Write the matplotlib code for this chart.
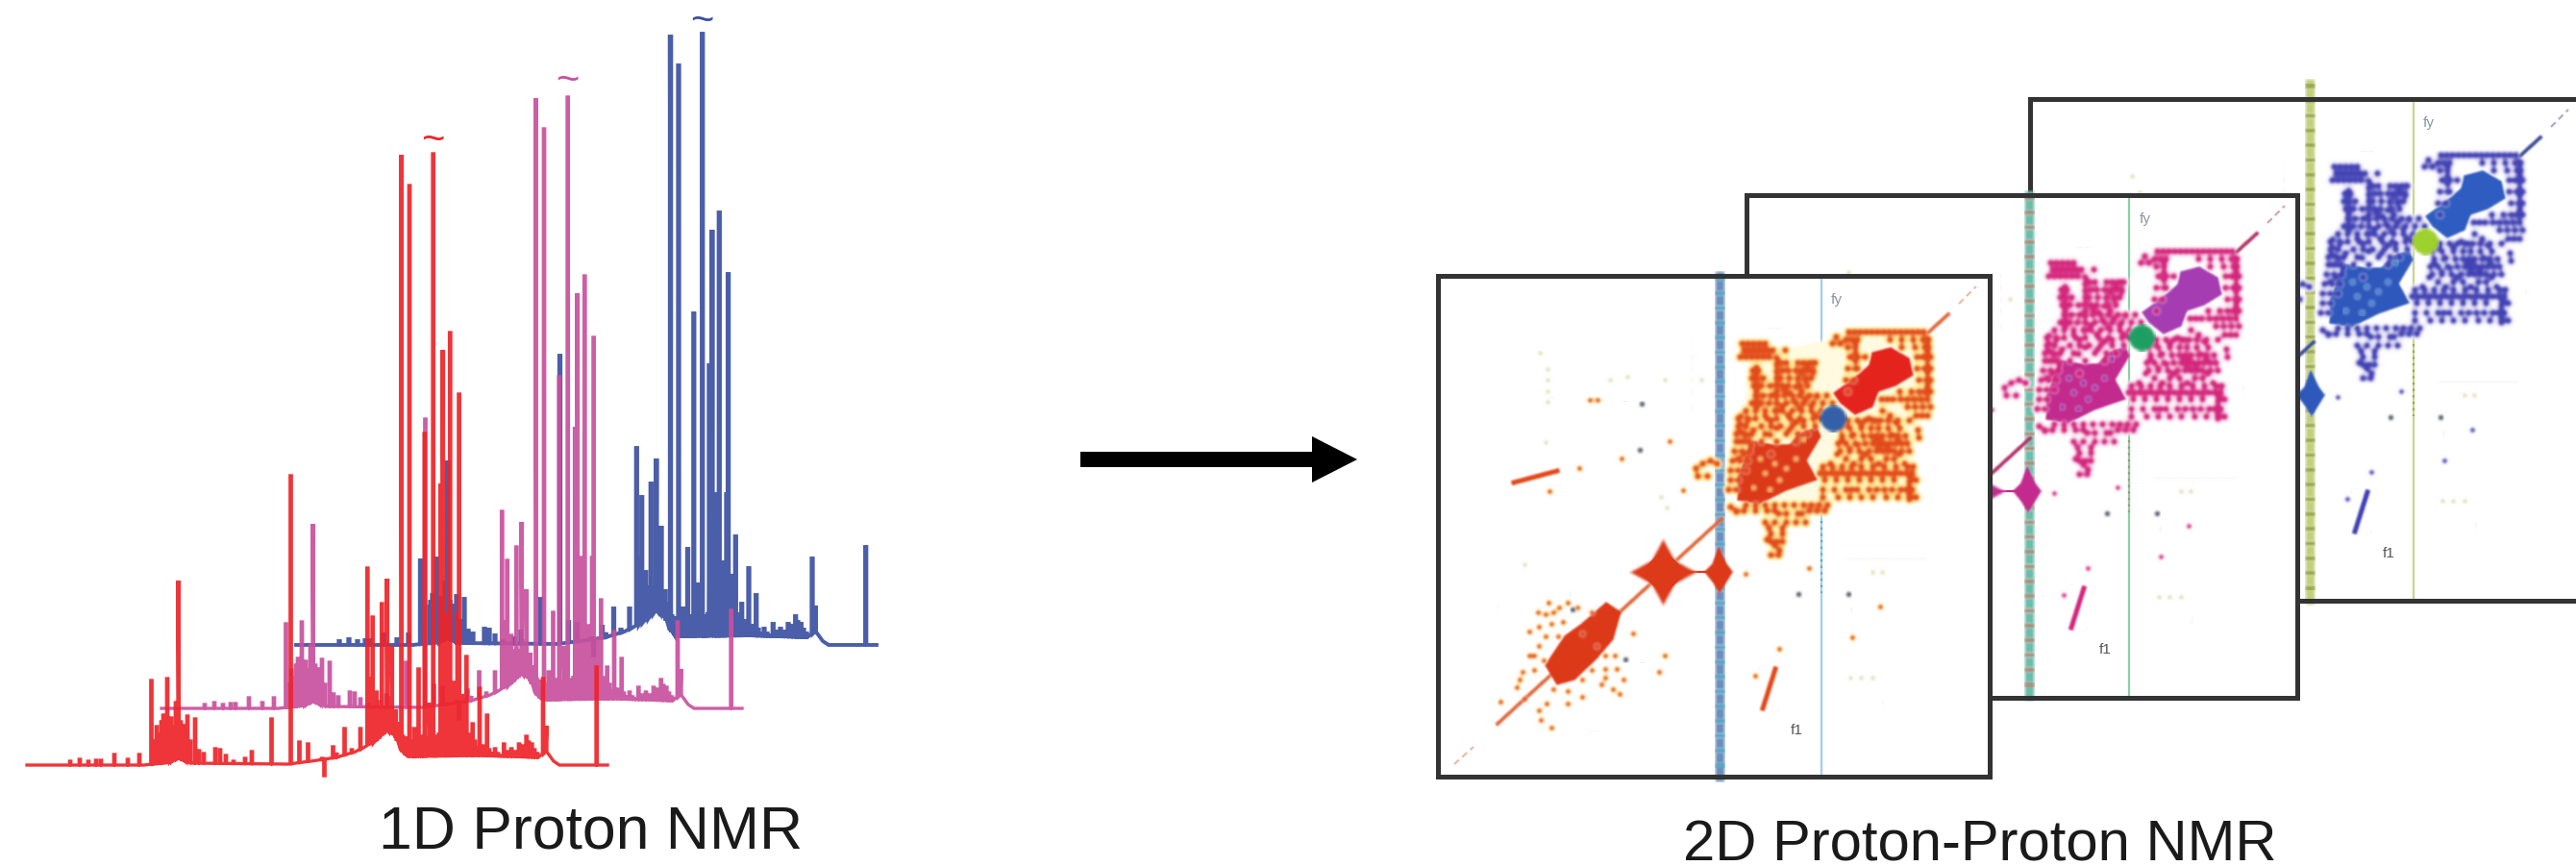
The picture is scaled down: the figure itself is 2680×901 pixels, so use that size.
import numpy as np
import matplotlib
matplotlib.use('Agg')
import matplotlib.pyplot as plt
from matplotlib.patches import Polygon

plt.rcParams['font.family'] = ['Liberation Sans', 'DejaVu Sans']

# 1D spectrum: position (px) and height above baseline (px)
peak_x = [73, 83, 92, 100, 105, 119, 133, 145, 157.5, 160, 163, 165.5, 168, 170, 172, 174, 176, 178, 180,
          183, 185.7, 188, 191, 193, 195, 198, 203, 207, 212, 224, 229, 235, 243, 255, 262, 282.5, 302.5,
          311.5, 320.5, 335, 337.5, 346.5, 350, 358.5, 366, 375, 382.3, 384, 386, 387.7, 390, 391.7, 394,
          397.3, 399, 402.7, 405, 407.7, 409, 411.7, 413, 417.5, 419, 422, 424, 426, 429, 431, 433, 435.5,
          438, 440, 441.8, 444, 446.7, 448, 450.7, 453, 455, 457, 458.3, 460.7, 462, 464, 466, 468.3, 470,
          472.3, 474, 476, 477.6, 479, 481.7, 483, 485.3, 487, 490, 491.7, 494, 497, 499, 502, 505, 506.7,
          509, 512, 515, 518, 521, 524.3, 528, 532, 536, 540, 544, 547.7, 550, 553.3, 556, 559, 565, 568.3,
          620.7]
peak_h = [4, 6, 4, 5, 5, 11, 6, 11, 88, 25, 40, 32, 45, 52, 40, 90, 45, 49, 40,
          65, 192, 45, 41, 30, 51, 25, 48, 15, 12, 17, 16, 10, 4, 7, 14, 48, 301,
          24, 22, 7, -11, 19, 13, 38, 16, 38, 205, 60, 90, 154, 45, 76, 60,
          168, 60, 194, 70, 124, 55, 58, 45, 635, 30, 22, 30, 603, 25, 38, 20, 100,
          30, 20, 345, 28, 65, 40, 636, 30, 20, 34, 293, 432, 40, 157, 60, 450, 45,
          86, 60, 157, 386, 50, 74, 30, 113, 32, 20, 43, 25, 18, 80, 20, 16, 52,
          16, 12, 17, 12, 10, 22, 14, 17, 14, 22, 20, 30, 24, 22, 16, 12, 90, 41,
          102]
base_x = [28, 150, 175, 186, 200, 300, 330, 350, 370, 390, 403, 411, 418, 424, 500, 560, 568, 576, 582, 632]
base_h = [0, 0, 3, 7, 2, 1, 5, 8, 14, 24, 36, 30, 14, 9, 10, 8, 14, 4, 0, 0]

trace_colors = ['#3c50a2', '#c8509e', '#ee2429']
trace_base_y = [671, 737, 796]
trace_shift = [280, 140, 0]
tilde_x = [730, 590, 450]
tilde_y = [23, 85, 147]

# 2D map, positions in px from the top left corner of a panel
panel_boxes = [(2112, 103, 2680, 625), (1817, 203, 2390, 726), (1496, 287, 2070, 808)]
dot_colors = ['#4141b4', '#d4257c', '#e2491b']
halo_colors = ['#e4def6', '#f9dcec', '#ffe675']
blob_colors = ['#2f5cc0', '#a63cb2', '#e5241c']
band_colors = ['#2f58bc', '#c22a8e', '#dc3a18']
centre_colors = ['#9ed02e', '#1f9f62', '#3460a8']
diag_colors = ['#3a4a92', '#b23064', '#e0683a']
stripe_colors = ['#c2d07e', '#6dbcaa', '#6a8ebe']
stripe_dots = ['#9aa64e', '#b98a78', '#5aa8c4']
thin_colors = ['#c6d68a', '#8ccfa6', '#9fd0e8']
speck_colors = ['#3f8fd8', '#7b3fc0', '#ffd24a']

stripe_u = [291, 293.5, 293]
thin_u = [399, 398, 399]

upper_blob_u = [452, 471, 490, 494, 476, 458, 452, 434, 419, 412, 429, 440, 449]
upper_blob_v = [80, 75, 86, 103, 114, 120, 136, 144, 132, 122, 110, 101, 93]
lower_blob_u = [394, 398, 383, 394, 362, 334, 312, 313, 327, 349, 366, 377]
lower_blob_v = [158, 167, 192, 212, 223, 237, 233, 208, 172, 176, 176, 164]
low_blob_u = [112, 132, 150, 175, 190, 182, 165, 142, 124]
low_blob_v = [405, 375, 362, 340, 350, 378, 398, 420, 425]
spike_u = [292, 300, 306, 300, 293, 286, 278, 286]
spike_v = [283, 300, 308, 318, 329, 318, 308, 300]
wash_u = [308, 324, 415, 505, 505, 490, 400, 335]
wash_v = [232, 84, 64, 64, 130, 225, 236, 246]
speck_u = [340, 350, 362, 328, 345, 372, 335, 355, 380]
speck_v = [205, 195, 200, 220, 222, 190, 190, 212, 170]

diag_u = [62, 295]
diag_v = [466, 253]
tail_u = [510, 531]
tail_v = [59, 40]
fade_u = [[17, 37], [542, 560]]
fade_v = [[508, 490], [29, 11]]

box_rows = [
    (58, [427, 433, 439, 445, 451, 457, 463, 469, 475, 481, 487, 493, 499, 505]),
    (66, [424, 430, 436, 470, 482, 494, 504, 510]),
    (70, [316, 322, 328, 334, 340]),
    (74, [426, 434, 482, 496, 506, 510]),
    (77, [318, 323, 328, 333, 338, 343, 348, 361]),
    (84, [314, 320, 326, 332, 338, 344, 428, 436, 444, 498, 504, 512]),
    (90, [356, 362, 374, 380, 386, 392]),
    (96, [426, 436, 498, 506, 512]),
    (98, [327, 333, 358, 364, 372, 378, 384, 390]),
    (106, [326, 338, 356, 365, 374, 382, 388]),
    (108, [424, 432, 500, 508, 512]),
    (114, [328, 336, 345, 358, 364, 376, 384]),
    (120, [426, 480, 492, 500, 506, 512]),
    (124, [330, 338, 346, 360, 368, 376, 386, 394, 404]),
    (128, [461, 467, 473, 481, 488, 495, 502, 509]),
    (132, [326, 336, 344, 352, 362, 372, 380, 390, 400, 410]),
    (136, [488, 496, 504, 512]),
    (140, [320, 330, 340, 350, 358, 368, 378, 388, 398]),
    (148, [312, 322, 330, 342, 352, 366, 376, 390, 398]),
    (150, [418, 426, 436, 444, 452, 460, 468, 478, 490]),
    (156, [312, 320, 336, 346, 356, 368, 380, 392]),
    (158, [418, 428, 440, 450, 458, 468, 480]),
    (164, [310, 318, 326, 340, 362, 374, 384]),
    (166, [420, 430, 442, 450, 456, 462, 470, 478, 486]),
    (172, [310, 318, 324, 336, 352, 372]),
    (174, [416, 424, 434, 444, 452, 458, 464, 470, 476, 482, 488]),
    (182, [308, 316, 324, 418, 428, 438, 448, 456, 462, 468, 474, 482, 490]),
    (192, [306, 314, 322]),
    (198, [400, 410, 420, 430, 440, 452, 464, 476, 488, 494]),
    (202, [304, 312, 320]),
    (205, [397, 403, 409, 415, 421, 427, 433, 439, 445, 451, 457, 463, 469, 475, 481, 487, 493]),
    (212, [304, 312, 402, 414, 426, 438, 450, 462, 474, 492, 497]),
    (222, [302, 310, 400, 412, 424, 430, 436, 448, 456, 464, 472, 481, 487, 493]),
    (230, [400, 416, 428, 440, 452, 466, 478, 490, 497]),
    (238, [320, 330, 340, 350, 360, 370, 380, 388, 396, 405]),
    (244, [310, 318, 330, 342, 350, 386, 394, 402]),
    (247, [354, 362, 374, 378]),
    (256, [340, 350, 362, 372, 382]),
    (262, [344, 358]),
    (276, [346, 352, 358]),
    (290, [346, 354]),
]
box_cols = [
    (509, [65, 72, 79, 86, 93, 100, 107, 114, 121]),
    (331, [95, 101, 107, 113, 119, 125, 131, 137]),
    (352, [85, 92, 99, 106, 113, 120, 125]),
    (434, [70, 80, 88, 96]),
    (314, [146, 154, 162, 172]),
    (490, [208, 214, 220, 228, 232]),
]
inner_u = [414, 410, 418, 497, 503, 509, 499, 500, 378, 384, 390, 382, 374, 390, 454, 460, 466, 472, 478, 458, 468,
           340, 346, 352, 358, 364, 370, 376, 382, 388, 394, 360, 366, 372, 378, 345, 352, 365, 372, 380, 392, 346,
           322, 328, 320, 325, 318, 312, 425, 432, 440, 448, 455, 462, 470, 476, 428, 436, 444, 420, 424, 432, 440,
           450, 458, 466, 474, 480, 485, 415, 408, 304, 310,
           268, 275, 283, 270, 280, 290, 346, 358, 350, 355, 342]
inner_v = [63, 70, 70, 145, 145, 145, 160, 168, 100, 95, 100, 108, 107, 90, 172, 168, 175, 165, 170, 178, 180,
           145, 150, 140, 135, 145, 130, 138, 128, 135, 125, 118, 122, 115, 120, 165, 158, 160, 152, 150, 145, 185,
           150, 160, 165, 175, 185, 190, 155, 165, 155, 148, 150, 140, 145, 152, 180, 175, 185, 170, 190, 195, 190,
           190, 195, 190, 190, 185, 195, 185, 195, 240, 245,
           200, 195, 192, 208, 208, 195, 268, 268, 280, 285, 274]
outer_u = [104, 112, 120, 126, 118, 130, 150, 105, 100, 110, 88, 82, 65, 85, 107, 105, 113,
           174, 184, 174, 186, 174, 193, 189, 236, 230, 203, 116, 147, 158, 166, 191, 241,
           255, 320, 386, 355, 330, 460, 431,
           95, 112, 125, 100, 120, 135, 150, 160, 165, 145, 135, 160, 115, 105, 95, 170, 182, 150, 135, 90, 118]
outer_v = [350, 352, 350, 345, 362, 360, 372, 385, 395, 400, 412, 428, 443, 420, 462, 452, 445,
           395, 395, 409, 409, 418, 420, 435, 395, 412, 372, 224, 200, 129, 129, 190, 172,
           223, 310, 304, 388, 416, 344, 376,
           370, 375, 375, 410, 430, 432, 420, 410, 385, 345, 340, 350, 340, 365, 395, 425, 430, 438, 445, 440, 470]
dark_u = [140, 195, 212, 210, 375, 427]
dark_v = [347, 399, 133, 181, 331, 331]
faint_u = [114, 114, 114, 114, 112, 106, 179, 197, 236, 274, 452, 462, 429, 452, 440, 90, 232, 238]
faint_v = [97, 108, 120, 131, 173, 80, 108, 105, 108, 108, 308, 308, 418, 418, 418, 300, 230, 241]
dash_u = [[79, 124], [351, 338]]
dash_v = [[215, 203], [409, 450]]


def soften(img, dpi):
    # the reference is a blurry scan, so smear marks a little
    out = img.copy()
    for axis in (0, 1):
        out = (np.roll(out, -2, axis) + 2 * np.roll(out, -1, axis) + 3 * out
               + 2 * np.roll(out, 1, axis) + np.roll(out, 2, axis)) / 9
    return out, 0, 0


def spectrum_trace():
    xs = list(base_x)
    ys = list(base_h)
    for x, h in zip(peak_x, peak_h):
        under = np.interp(x, base_x, base_h)
        top = h if h < 0 else max(h, under)
        xs += [x - 0.7, x - 0.7, x + 0.7, x + 0.7]
        ys += [under, top, top, under]
    xs = np.array(xs)
    ys = np.array(ys)
    order = np.argsort(xs, kind='stable')
    return xs[order], ys[order]


def draw_spectra(ax):
    xs, ys = spectrum_trace()
    widths = [2.8, 2.4, 2.4]
    for i, color in enumerate(trace_colors):
        ax.plot(xs + trace_shift[i], trace_base_y[i] - ys, color=color, lw=widths[i], alpha=0.92,
                solid_joinstyle='miter', zorder=2 + i)
        ax.text(tilde_x[i], tilde_y[i], '~', color=color, fontsize=30, ha='center', va='center', zorder=6)


def draw_panel(fig, i):
    x0, y0, x1, y1 = panel_boxes[i]
    ax = fig.add_axes([x0 / 2680, 1 - y1 / 901, (x1 - x0) / 2680, (y1 - y0) / 901], zorder=2 + i)
    ax.set_xlim(0, x1 - x0)
    ax.set_ylim(y1 - y0, 0)
    ax.set_xticks([])
    ax.set_yticks([])
    for spine in ax.spines.values():
        spine.set_linewidth(3.6)
        spine.set_color('#333333')
    if i == 0:
        ax.spines['right'].set_visible(False)

    dot = dot_colors[i]
    stripe_top = -16 if i == 0 else 0

    # vertical noise stripes
    ax.plot([stripe_u[i], stripe_u[i]], [stripe_top, 521], color=stripe_colors[i], lw=6.5, clip_on=False,
            agg_filter=soften, zorder=1)
    ax.plot([stripe_u[i], stripe_u[i]], [stripe_top, 521], color=stripe_dots[i], lw=6.5, ls=(0, (0.5, 1.2)),
            clip_on=False, agg_filter=soften, zorder=1.1)
    ax.plot([thin_u[i], thin_u[i]], [0, 521], color=thin_colors[i], lw=1.6, zorder=1)
    ax.plot([thin_u[i], thin_u[i]], [255, 330], color=stripe_dots[i], lw=1.6, ls=(0, (1, 2)), zorder=1.1)

    box_u = [u for v, row in box_rows for u in row] + [u for u, col in box_cols for v in col] + inner_u
    box_v = [v for v, row in box_rows for u in row] + [v for u, col in box_cols for v in col] + inner_v

    # the front map has a pale yellow wash behind its cross peaks
    if i == 2:
        wash = Polygon(np.column_stack([wash_u, wash_v]), closed=True, fc='#fffbe0', ec='none', zorder=1.5)
        wash.set_agg_filter(soften)
        ax.add_patch(wash)

    # pale halos under the cross peaks
    ax.scatter(box_u, box_v, s=70, color=halo_colors[i], lw=0, agg_filter=soften, zorder=2)
    ax.scatter(outer_u, outer_v, s=30, color=halo_colors[i], lw=0, agg_filter=soften, zorder=2)

    # diagonal
    ax.plot(diag_u, diag_v, color=diag_colors[i], lw=3.2, agg_filter=soften, zorder=3)
    ax.plot(tail_u, tail_v, color=diag_colors[i], lw=3.2, agg_filter=soften, zorder=3)
    for fu, fv in zip(fade_u, fade_v):
        ax.plot(fu, fv, color=diag_colors[i], lw=1.6, ls=(0, (3, 2)), alpha=0.45, zorder=3)

    # large diagonal blobs
    for bu, bv, col in ((upper_blob_u, upper_blob_v, blob_colors[i]),
                        (lower_blob_u, lower_blob_v, band_colors[i]),
                        (low_blob_u, low_blob_v, band_colors[i]),
                        (spike_u, spike_v, band_colors[i])):
        patch = Polygon(np.column_stack([bu, bv]), closed=True, fc=col, ec=col, lw=1.5, zorder=4)
        patch.set_agg_filter(soften)
        ax.add_patch(patch)
    ax.plot([262, 282], [308, 308], color=band_colors[i], lw=1.6, zorder=4)
    ax.scatter([234], [308], s=2600, marker=(4, 1, 0), color=band_colors[i], lw=0, agg_filter=soften, zorder=4)
    ax.scatter([234], [308], s=620, marker='D', color=band_colors[i], lw=0, zorder=4)
    ax.scatter([411], [148], s=400, marker='o', color=centre_colors[i], lw=0, agg_filter=soften, zorder=5)

    # cross peaks
    ax.scatter(box_u, box_v, s=30, color=dot, lw=0, agg_filter=soften, zorder=4.5)
    ax.scatter(outer_u, outer_v, s=18, color=dot, lw=0, agg_filter=soften, zorder=4.5)
    ax.scatter(speck_u, speck_v, s=16, color=speck_colors[i], lw=0, agg_filter=soften, zorder=4.6)
    ax.scatter(dark_u, dark_v, s=24, color='#4a5560', lw=0, agg_filter=soften, zorder=4.5)
    ax.scatter(faint_u, faint_v, s=14, color='#d8dca0', lw=0, agg_filter=soften, zorder=2)
    for du, dv in zip(dash_u, dash_v):
        ax.plot(du, dv, color=dot, lw=4.2, agg_filter=soften, zorder=4.5)

    ax.text(415, 25, 'fy', color='#8a96a0', fontsize=11, ha='center', va='center', zorder=5)
    ax.text(373, 473, 'f1', color='#555555', fontsize=11, ha='center', va='center', zorder=5)


fig = plt.figure(figsize=(26.8, 9.01), dpi=100)
canvas = fig.add_axes([0, 0, 1, 1], zorder=0)
canvas.set_xlim(0, 2680)
canvas.set_ylim(901, 0)
canvas.axis('off')

draw_spectra(canvas)

# arrow between the two halves
arrow_x = [1124, 1365, 1365, 1412, 1365, 1365, 1124]
arrow_y = [470, 470, 454, 478, 502, 486, 486]
canvas.fill(arrow_x, arrow_y, color='black', lw=0)

canvas.text(615, 866, '1D Proton NMR', fontsize=45, color='#1a1a1a', ha='center', va='center',
            family='Liberation Sans')
canvas.text(2060, 880, '2D Proton-Proton NMR', fontsize=43, color='#1a1a1a', ha='center', va='center',
            family='Liberation Sans')

for i in range(3):
    draw_panel(fig, i)

fig.savefig('out.png', dpi=100, facecolor='white')
